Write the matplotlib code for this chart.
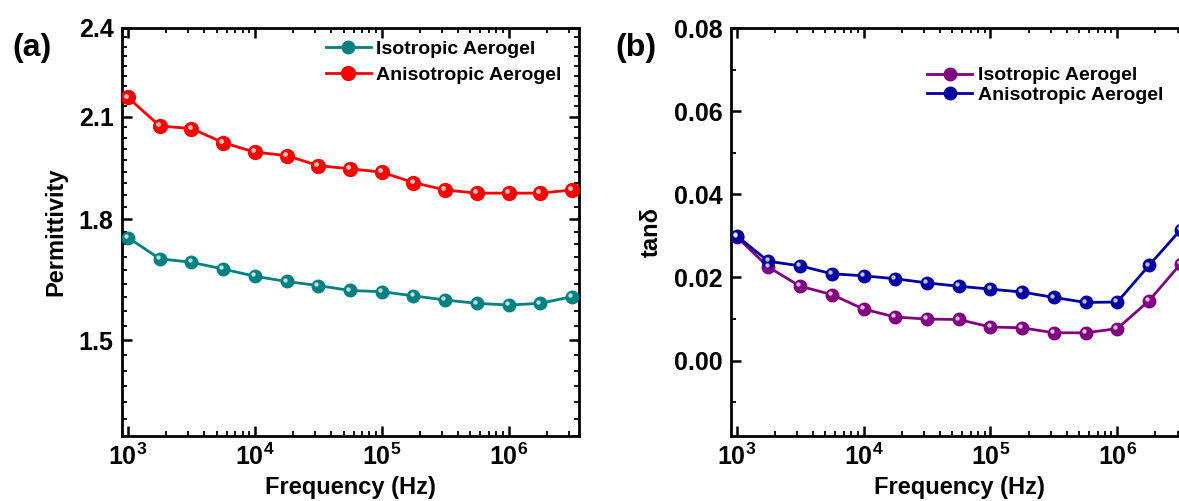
import numpy as np
import matplotlib
matplotlib.use("Agg")
import matplotlib.pyplot as plt
from matplotlib.ticker import FixedLocator, FixedFormatter, MultipleLocator, LogLocator, NullFormatter
from matplotlib.transforms import offset_copy

plt.rcParams['font.family'] = ['Liberation Sans', 'DejaVu Sans']
plt.rcParams['font.weight'] = 'bold'
plt.rcParams['axes.labelweight'] = 'bold'
plt.rcParams['mathtext.fontset'] = 'custom'
plt.rcParams['mathtext.rm'] = 'Liberation Sans:bold'
plt.rcParams['mathtext.bf'] = 'Liberation Sans:bold'

# frequencies (Hz), same for both panels
freq = [1000, 1778, 3162, 5623, 10000, 17783, 31623, 56234,
        100000, 177828, 316228, 562341, 1000000, 1778279, 3162278]

# (a) permittivity
perm_iso = [1.751, 1.696, 1.687, 1.670, 1.652, 1.639, 1.629, 1.617,
            1.614, 1.604, 1.594, 1.586, 1.582, 1.586, 1.602]
perm_aniso = [2.162, 2.071, 2.063, 2.020, 1.991, 1.981, 1.951, 1.942,
              1.932, 1.902, 1.881, 1.872, 1.872, 1.872, 1.881]

# (b) tan delta
tan_iso = [0.0298, 0.0225, 0.0179, 0.0159, 0.0124, 0.0105, 0.0100, 0.0099,
           0.0081, 0.0079, 0.0067, 0.0067, 0.0077, 0.0144, 0.0233]
tan_aniso = [0.0300, 0.0239, 0.0228, 0.0209, 0.0204, 0.0197, 0.0187, 0.0179,
             0.0172, 0.0165, 0.0152, 0.0140, 0.0141, 0.0229, 0.0315]

labels = ["Isotropic Aerogel", "Anisotropic Aerogel"]
xticks = [1e3, 1e4, 1e5, 1e6]
xticklabels = [r'$\mathbf{10^{3}}$', r'$\mathbf{10^{4}}$', r'$\mathbf{10^{5}}$', r'$\mathbf{10^{6}}$']

fig = plt.figure(figsize=(11.79, 5.01), dpi=100)
W, H = 1179, 501
ax1 = fig.add_axes([122 / W, 65.5 / H, 457 / W, 407.5 / H])
ax2 = fig.add_axes([730.7 / W, 65.5 / H, 457 / W, 407.5 / H])


def ball_line(ax, x, y, color, ms):
    line, = ax.plot(x, y, '-o', color=color, lw=2.0, ms=ms, mfc=color, mec=color, zorder=3)
    tr = offset_copy(ax.transData, fig=fig, x=-1.3, y=1.3, units='points')
    ax.plot(x, y, 'o', ls='none', ms=ms * 0.35, mfc='white', mec='none', alpha=0.75,
            transform=tr, zorder=4)
    return line


def style(ax, right=True):
    ax.set_xscale('log')
    ax.set_xlim(10 ** 2.953, 10 ** 6.555)
    ax.xaxis.set_major_locator(FixedLocator(xticks))
    ax.xaxis.set_major_formatter(FixedFormatter(xticklabels))
    ax.xaxis.set_minor_locator(LogLocator(base=10, subs=np.arange(2, 10)))
    ax.xaxis.set_minor_formatter(NullFormatter())
    for s in ax.spines.values():
        s.set_linewidth(2.0)
    ax.tick_params(which='major', direction='in', length=7, width=1.8, labelsize=18,
                   top=True, right=right, pad=6)
    ax.tick_params(which='minor', direction='in', length=3.5, width=1.3, top=True, right=right)
    ax.set_xlabel("Frequency (Hz)", fontsize=17, labelpad=4)


# panel (a)
l1 = ball_line(ax1, freq, perm_iso, '#008080', 9)
l2 = ball_line(ax1, freq, perm_aniso, '#ff0000', 10)
style(ax1)
ax1.set_yscale('log')
ax1.set_ylim(1.3, 2.4)
ax1.yaxis.set_major_locator(FixedLocator([1.5, 1.8, 2.1, 2.4]))
ax1.yaxis.set_major_formatter(FixedFormatter(['1.5', '1.8', '2.1', '2.4']))
ax1.yaxis.set_minor_locator(FixedLocator([1.5 + k / 30 for k in range(-6, 28)]))
ax1.yaxis.set_minor_formatter(NullFormatter())
ax1.set_ylabel("Permittivity", fontsize=17, labelpad=8)
ax1.legend([l1, l2], labels, loc='upper left', bbox_to_anchor=(0.446, 0.97),
           frameon=False, fontsize=14, handlelength=2.3, handletextpad=0.3,
           labelspacing=0.45, borderpad=0, borderaxespad=0)

# panel (b)
l3 = ball_line(ax2, freq, tan_iso, '#800080', 9)
l4 = ball_line(ax2, freq, tan_aniso, '#0000a0', 9)
style(ax2, right=False)
ax2.set_ylim(-0.018, 0.08)
ax2.yaxis.set_major_locator(MultipleLocator(0.02))
ax2.yaxis.set_minor_locator(MultipleLocator(0.01))
ax2.yaxis.set_major_formatter(plt.FuncFormatter(lambda v, p: f"{v:.2f}"))
ax2.set_ylabel("tanδ", fontsize=17, labelpad=8)
ax2.legend([l3, l4], labels, loc='upper left', bbox_to_anchor=(0.43, 0.905),
           frameon=False, fontsize=14, handlelength=2.3, handletextpad=0.3,
           labelspacing=0.12, borderpad=0, borderaxespad=0)

fig.text(32 / W, 1 - 48 / H, "(a)", fontsize=23, fontweight='bold', ha='center', va='center')
fig.text(636 / W, 1 - 48 / H, "(b)", fontsize=23, fontweight='bold', ha='center', va='center')

fig.savefig("out.png", dpi=100)
